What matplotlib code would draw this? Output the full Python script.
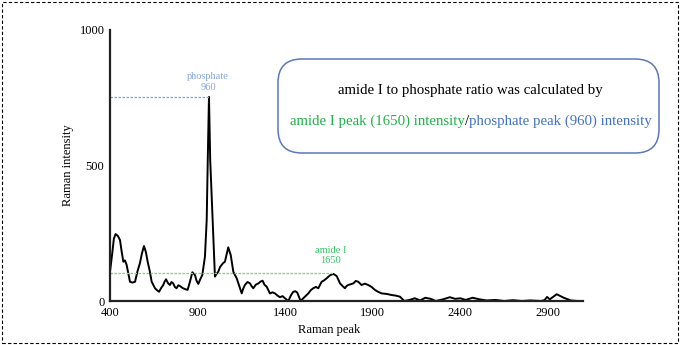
import matplotlib
matplotlib.use("Agg")
from matplotlib import pyplot as plt
from matplotlib.patches import FancyBboxPatch, Rectangle
import numpy as np

plt.rcParams['font.family'] = ['Liberation Serif', 'DejaVu Serif']

# spectrum (wavenumber, intensity)
wavenumber = [400, 406, 413, 422, 432, 445, 457, 466, 476, 485, 495, 505, 514, 528,
              543, 557, 571, 582, 594, 605, 615, 627, 638, 657, 668, 680,
              692, 704, 712, 720, 731, 742, 751, 761, 770, 780, 790, 800, 814, 828,
              843, 856, 870, 885, 894, 904, 915, 927, 942, 952,
              958, 965, 972, 986, 999, 1008, 1018, 1028, 1037, 1046, 1056, 1075,
              1089, 1104, 1123, 1138, 1152, 1160, 1170, 1185, 1199, 1208, 1218,
              1232, 1247, 1260, 1271, 1282, 1294, 1313, 1328, 1342, 1356, 1370,
              1385, 1399, 1418, 1432, 1446, 1458, 1469, 1488, 1500, 1513, 1522,
              1532, 1546, 1560, 1575, 1589, 1608, 1622, 1637, 1656, 1675, 1694,
              1713, 1728, 1741, 1750, 1760, 1775, 1789, 1803, 1817, 1836, 1855,
              1874, 1893, 1912, 1930, 1951, 1980, 2008, 2030, 2055, 2080, 2110,
              2140, 2170, 2200, 2230, 2260, 2300, 2340, 2370, 2400, 2430, 2470,
              2510, 2550, 2600, 2650, 2700, 2750, 2800, 2860, 2880, 2895, 2910,
              2950, 2990, 3030, 3070, 3100]
intensity = [108, 140, 177, 230, 247, 240, 225, 185, 145, 150, 133, 100, 71, 68,
             71, 110, 140, 175, 203, 180, 145, 110, 71, 47, 40, 34,
             48, 59, 72, 80, 66, 59, 70, 65, 52, 47, 58, 55, 48, 44,
             41, 70, 106, 96, 75, 63, 80, 96, 164, 299,
             520, 753, 520, 299, 90, 100, 108, 125, 133, 140, 145, 198,
             170, 108, 84, 55, 28, 45, 59, 70, 65, 55, 47,
             60, 65, 72, 75, 60, 53, 28, 32, 28, 20, 14,
             18, 10, 0, 20, 34, 36, 31, 0, 8, 16, 22,
             28, 40, 47, 52, 47, 71, 76, 84, 95, 100, 92,
             65, 55, 47, 55, 59, 62, 65, 74, 71, 59, 64,
             59, 52, 41, 34, 28, 26, 22, 20, 16, 0, 4,
             10, 2, 12, 8, 0, 6, 14, 8, 10, 4, 12,
             6, 2, 4, 0, 3, 0, 2, 0, 3, 15, 6,
             25, 12, 2, 0, 0]

x_ticks = [400, 900, 1400, 1900, 2400, 2900]
y_ticks = [0, 500, 1000]

phosphate_peak = (965, 753)
amide_peak = (1675, 103)

fig = plt.figure(figsize=(6.8, 3.45), dpi=100)
ax = fig.add_axes([110 / 680, 1 - 301 / 345, 473 / 680, 271 / 345])

ax.plot(wavenumber, intensity, color="black", linewidth=1.4)
ax.set_xlim(400, 3100)
ax.set_ylim(0, 1000)
ax.set_xticks(x_ticks)
ax.set_yticks(y_ticks)
ax.tick_params(length=0, labelsize=9, pad=4)
for s in ["top", "right"]:
  ax.spines[s].set_visible(False)
for s in ["left", "bottom"]:
  ax.spines[s].set_linewidth(1.6)
  ax.spines[s].set_color("#222222")

ax.set_ylabel("Raman intensity", fontsize=9, labelpad=4)
fig.text(329 / 680, 1 - 330 / 345, "Raman peak", fontsize=9, ha="center", va="center")

# reference lines to the two peaks
ax.plot([400, phosphate_peak[0]], [phosphate_peak[1]] * 2, color="#7fa2e6",
        linestyle=(0, (2, 1.2)), linewidth=0.9)
ax.plot([400, amide_peak[0]], [amide_peak[1]] * 2, color="#7fcf7f",
        linestyle=(0, (2, 1.2)), linewidth=0.9)
ax.text(phosphate_peak[0] - 5, phosphate_peak[1] + 20, "phosphate\n960", color="#86a6e0",
        fontsize=7.5, ha="center", va="bottom", linespacing=1.15)
ax.text(amide_peak[0] - 15, amide_peak[1] + 28, "amide I\n1650", color="#3cc06a",
        fontsize=7.5, ha="center", va="bottom", linespacing=1.15)

# rounded box with the explanation
box = FancyBboxPatch((278 / 680, 1 - 153 / 345), 381 / 680, 94 / 345,
                     boxstyle="round,pad=0,rounding_size=0.035",
                     transform=fig.transFigure, facecolor="white",
                     edgecolor="#5b78b8", linewidth=1.1, mutation_aspect=680 / 345)
fig.patches.append(box)
fig.text(470 / 680, 1 - 90 / 345, "amide I to phosphate ratio was calculated by",
         fontsize=10.7, ha="center", va="center")
t1 = fig.text(290 / 680, 1 - 121 / 345, "amide I peak (1650) intensity",
              fontsize=10.7, color="#22b14c", ha="left", va="center")
fig.canvas.draw()
r = fig.canvas.get_renderer()
bb = t1.get_window_extent(r)
t2 = fig.text(bb.x1 / 680, 1 - 121 / 345, "/", fontsize=10.7, color="black",
              ha="left", va="center")
bb2 = t2.get_window_extent(r)
fig.text(bb2.x1 / 680, 1 - 121 / 345, "phosphate peak (960) intensity",
         fontsize=10.7, color="#4472c4", ha="left", va="center")

# dashed frame round the figure
frame = Rectangle((2 / 680, 2 / 345), 676 / 680, 341 / 345, transform=fig.transFigure,
                  fill=False, edgecolor="black", linestyle=(0, (3, 2)), linewidth=0.8)
fig.patches.append(frame)

fig.savefig("out.png", dpi=100)
